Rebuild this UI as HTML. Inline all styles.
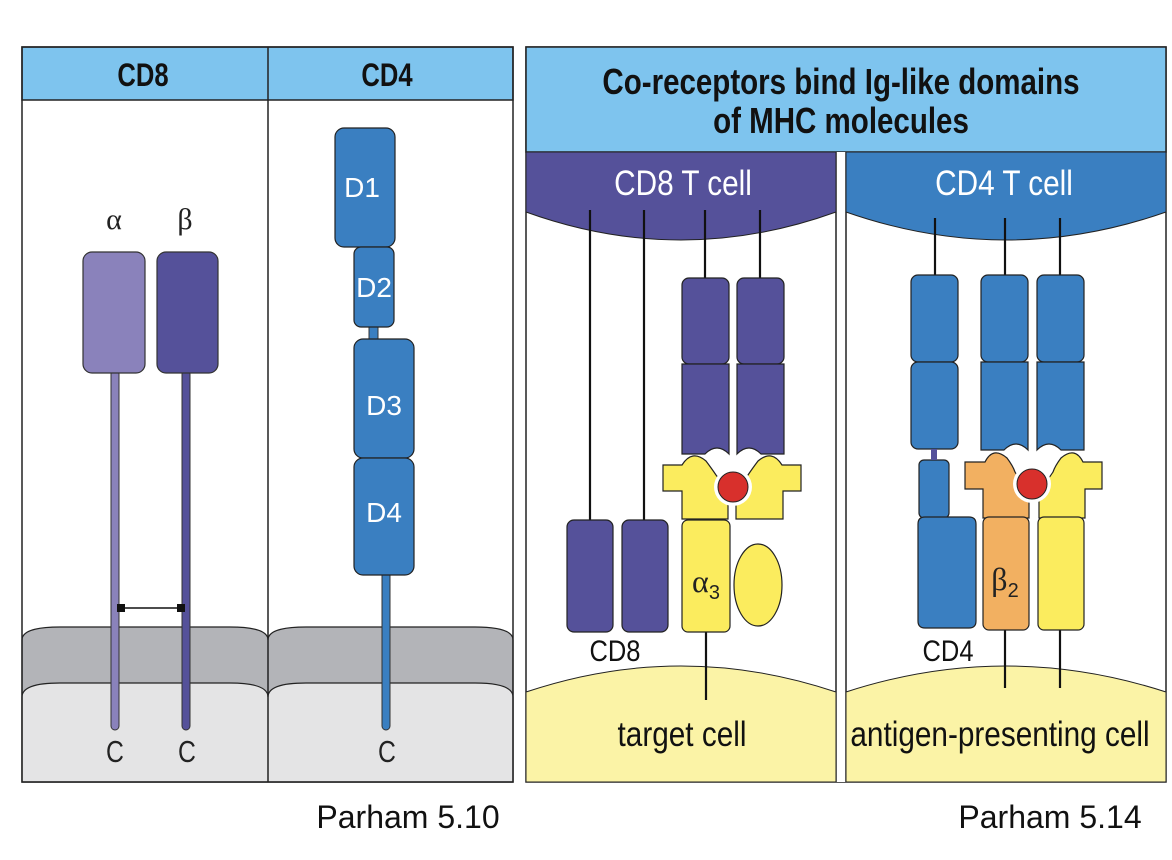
<!DOCTYPE html>
<html><head><meta charset="utf-8"><style>
html,body{margin:0;padding:0;background:#fff;}
svg{display:block;font-family:"Liberation Sans",sans-serif;}
</style></head><body>
<svg width="1172" height="860" viewBox="0 0 1172 860" xmlns="http://www.w3.org/2000/svg">
<!-- LEFT PANEL -->
<rect x="22" y="47" width="491" height="735" fill="#fff"/>
<path d="M22,640 Q22,627 60,627 L230,627 Q268,627 268,640 Q268,627 306,627 L475,627 Q513,627 513,640 L513,782 L22,782 Z" fill="#b3b4b8" stroke="#222" stroke-width="1.2"/>
<path d="M22,697 Q22,683 60,683 L230,683 Q268,683 268,697 Q268,683 306,683 L475,683 Q513,683 513,697 L513,782 L22,782 Z" fill="#e4e4e5" stroke="#222" stroke-width="1.2"/>
<rect x="22" y="47" width="491" height="53" fill="#7ec4ee" stroke="#222" stroke-width="1.5"/>
<rect x="22" y="47" width="491" height="735" fill="none" stroke="#222" stroke-width="1.5"/>
<line x1="268" y1="47" x2="268" y2="782" stroke="#222" stroke-width="1.5"/>
<text x="143" y="86" font-size="32" font-weight="bold" text-anchor="middle" fill="#111" transform="translate(143,0) scale(0.8,1) translate(-143,0)">CD8</text>
<text x="387" y="86" font-size="32" font-weight="bold" text-anchor="middle" fill="#111" transform="translate(387,0) scale(0.8,1) translate(-387,0)">CD4</text>
<text x="114" y="229" font-size="30" font-family="Liberation Serif,serif" text-anchor="middle" fill="#222">α</text>
<text x="185" y="229" font-size="30" font-family="Liberation Serif,serif" text-anchor="middle" fill="#222">β</text>
<rect x="111" y="370" width="8" height="360" rx="4" fill="#8a82bb" stroke="#333" stroke-width="1"/>
<rect x="182" y="370" width="8" height="360" rx="4" fill="#55519a" stroke="#333" stroke-width="1"/>
<rect x="83" y="252" width="62" height="121" rx="9" fill="#8a82bb" stroke="#333" stroke-width="1.2"/>
<rect x="157" y="252" width="61" height="121" rx="9" fill="#55519a" stroke="#333" stroke-width="1.2"/>
<line x1="121" y1="608" x2="181" y2="608" stroke="#111" stroke-width="1.5"/>
<rect x="117" y="604" width="8" height="8" fill="#111"/>
<rect x="177" y="604" width="8" height="8" fill="#111"/>
<g font-size="31" text-anchor="middle" fill="#222">
<text x="115" y="762" transform="translate(115,0) scale(0.8,1) translate(-115,0)">C</text>
<text x="187" y="762" transform="translate(187,0) scale(0.8,1) translate(-187,0)">C</text>
<text x="387" y="762" transform="translate(387,0) scale(0.8,1) translate(-387,0)">C</text></g>
<!-- CD4 -->
<rect x="382" y="570" width="8" height="160" rx="4" fill="#3a7fc1" stroke="#333" stroke-width="1"/>
<rect x="369" y="325" width="9" height="16" fill="#3a7fc1" stroke="#333" stroke-width="1"/>
<rect x="335" y="128" width="60" height="119" rx="9" fill="#3a7fc1" stroke="#222" stroke-width="1.2"/>
<rect x="354" y="247" width="40" height="80" rx="7" fill="#3a7fc1" stroke="#222" stroke-width="1.2"/>
<rect x="354" y="339" width="60" height="119" rx="9" fill="#3a7fc1" stroke="#222" stroke-width="1.2"/>
<rect x="354" y="458" width="60" height="117" rx="9" fill="#3a7fc1" stroke="#222" stroke-width="1.2"/>
<g fill="#fff" font-size="28" text-anchor="middle">
<text x="362" y="197">D1</text><text x="374" y="297">D2</text>
<text x="384" y="415">D3</text><text x="384" y="522">D4</text></g>

<!-- RIGHT PANEL -->
<rect x="526" y="47" width="640" height="735" fill="#fff" stroke="#222" stroke-width="1.5"/>
<rect x="526" y="47" width="640" height="105" fill="#7ec4ee" stroke="#222" stroke-width="1.5"/>
<g font-size="36" font-weight="bold" text-anchor="middle" fill="#111">
<text x="841" y="94" transform="translate(841,0) scale(0.82,1) translate(-841,0)">Co-receptors bind Ig-like domains</text>
<text x="841" y="133" transform="translate(841,0) scale(0.82,1) translate(-841,0)">of MHC molecules</text></g>
<rect x="836" y="152" width="10" height="630" fill="#fff"/>
<line x1="836" y1="152" x2="836" y2="782" stroke="#222" stroke-width="1.5"/>
<line x1="846" y1="152" x2="846" y2="782" stroke="#222" stroke-width="1.5"/>
<path d="M526,152 L836,152 L836,212 Q681,268 526,212 Z" fill="#55519a" stroke="#222" stroke-width="1"/>
<path d="M846,152 L1166,152 L1166,212 Q1006,268 846,212 Z" fill="#3a7fc1" stroke="#222" stroke-width="1"/>
<path d="M526,692 Q681,640 836,692 L836,782 L526,782 Z" fill="#fbf3a6" stroke="#222" stroke-width="1"/>
<path d="M846,692 Q1006,640 1166,692 L1166,782 L846,782 Z" fill="#fbf3a6" stroke="#222" stroke-width="1"/>
<g font-size="35" fill="#fff" text-anchor="middle">
<text x="683" y="195" transform="translate(683,0) scale(0.85,1) translate(-683,0)">CD8  T cell</text>
<text x="1004" y="195" transform="translate(1004,0) scale(0.85,1) translate(-1004,0)">CD4  T cell</text></g>
<g font-size="35" fill="#111" text-anchor="middle">
<text x="682" y="746" transform="translate(682,0) scale(0.85,1) translate(-682,0)">target cell</text>
<text x="1000" y="746" transform="translate(1000,0) scale(0.85,1) translate(-1000,0)">antigen-presenting cell</text>
<text x="615" y="661" font-size="30" transform="translate(615,0) scale(0.85,1) translate(-615,0)">CD8</text>
<text x="948" y="661" font-size="30" transform="translate(948,0) scale(0.85,1) translate(-948,0)">CD4</text></g>
<g stroke="#111" stroke-width="2.2">
<line x1="590" y1="210" x2="590" y2="520"/><line x1="644" y1="210" x2="644" y2="520"/>
<line x1="705" y1="210" x2="705" y2="280"/><line x1="760" y1="210" x2="760" y2="280"/>
<line x1="706" y1="630" x2="706" y2="700"/>
<line x1="935" y1="218" x2="935" y2="278"/><line x1="1005" y1="218" x2="1005" y2="278"/><line x1="1060" y1="218" x2="1060" y2="278"/>
<line x1="1005" y1="628" x2="1005" y2="688"/><line x1="1060" y1="628" x2="1060" y2="688"/>
</g>
<g fill="#55519a" stroke="#222" stroke-width="1.2">
<rect x="682" y="278" width="47" height="86" rx="7"/><rect x="737" y="278" width="47" height="86" rx="7"/>
<path d="M682,364 h47 v90 q-12,-12 -24,0 h-23 z"/>
<path d="M737,364 h47 v90 h-23 q-12,-12 -24,0 z"/>
<rect x="567" y="520" width="46" height="112" rx="7"/><rect x="622" y="520" width="46" height="112" rx="7"/>
</g>
<g fill="#fbec5e" stroke="#222" stroke-width="1.2">
<path d="M663,465 h19 q10,-16 24,-4 q6,8 10,14 q8,10 12,16 l0,28 h-46 v-28 h-19 z"/>
<path d="M801,465 h-19 q-10,-16 -24,-4 q-6,8 -10,14 q-8,10 -12,16 l0,28 h47 v-28 h18 z"/>
<rect x="682" y="520" width="48" height="112" rx="6"/>
<ellipse cx="758" cy="585" rx="24" ry="41"/>
</g>
<circle cx="733" cy="487" r="19" fill="#fff"/>
<circle cx="733" cy="487" r="15" fill="#d8302c" stroke="#222" stroke-width="1"/>
<text x="706" y="592" font-size="32" font-family="Liberation Serif,serif" fill="#222" text-anchor="middle">α<tspan font-size="20" dy="7" font-family="Liberation Sans,sans-serif">3</tspan></text>
<g fill="#3a7fc1" stroke="#222" stroke-width="1.2">
<rect x="911" y="275" width="47" height="87" rx="7"/><rect x="911" y="362" width="47" height="87" rx="7"/>
<rect x="981" y="275" width="47" height="87" rx="7"/><rect x="1037" y="275" width="47" height="87" rx="7"/>
<path d="M981,362 h47 v88 q-12,-12 -24,0 h-23 z"/>
<path d="M1037,362 h47 v88 h-23 q-12,-12 -24,0 z"/>
<rect x="919" y="460" width="30" height="58" rx="5"/>
<path d="M918,524 q0,-7 7,-7 h44 q7,0 7,7 v97 q0,7 -7,7 h-44 q-7,0 -7,-7 z"/>
</g>
<rect x="931" y="449" width="6" height="11" fill="#55519a"/>
<g stroke="#222" stroke-width="1.2">
<path d="M965,462 h20 q8,-16 22,-4 q6,8 8,14 q6,10 14,14 l0,32 h-46 v-29 h-18 z" fill="#f2b061"/>
<path d="M1102,462 h-19 q-8,-16 -22,-4 q-6,8 -8,14 q-6,10 -14,14 l0,32 h46 v-29 h17 z" fill="#fbec5e"/>
<rect x="983" y="517" width="46" height="113" rx="6" fill="#f2b061"/>
<rect x="1038" y="517" width="46" height="113" rx="6" fill="#fbec5e"/>
</g>
<circle cx="1032" cy="484" r="19" fill="#fff"/>
<circle cx="1032" cy="484" r="15" fill="#d8302c" stroke="#222" stroke-width="1"/>
<text x="1005" y="590" font-size="32" font-family="Liberation Serif,serif" fill="#222" text-anchor="middle">β<tspan font-size="20" dy="7" font-family="Liberation Sans,sans-serif">2</tspan></text>
<text x="408" y="828" font-size="32" fill="#111" text-anchor="middle">Parham 5.10</text>
<text x="1050" y="828" font-size="32" fill="#111" text-anchor="middle">Parham 5.14</text>
</svg>
</body></html>
